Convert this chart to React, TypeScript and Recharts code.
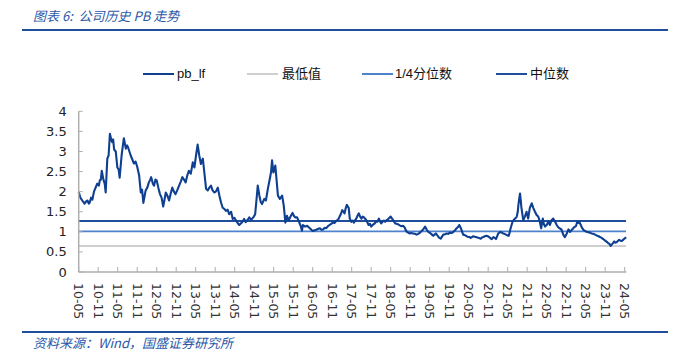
import React from 'react';
import { LineChart, Line, XAxis, YAxis } from 'recharts';

// month index from 2010-05 (0) to 2024-05 (168)
const months = [
  0, 0.5, 1.1, 1.8, 2.3, 2.7, 3.1, 3.4, 3.8, 4.2, 4.7, 5.2, 5.7, 6.2, 6.5, 6.8, 7.1, 7.6, 8.0, 8.3,
  8.8, 9.2, 9.6, 10.0, 10.3, 10.6, 10.9, 11.4, 11.9, 12.3, 12.6, 13.2, 13.6, 13.9, 14.2, 14.5, 14.9, 15.2, 15.6, 16.0,
  16.5, 17.0, 17.5, 18.0, 18.6, 19.1, 19.5, 19.9, 20.3, 20.6, 21.1, 21.6, 22.0, 22.3, 22.8, 23.2, 23.6, 24.0, 24.5, 25.0,
  25.5, 26.0, 26.4, 26.8, 27.3, 27.8, 28.3, 28.8, 29.3, 29.8, 30.4, 30.9, 31.4, 31.9, 32.4, 32.9, 33.4, 33.9, 34.5, 35.1,
  35.6, 36.1, 36.6, 37.1, 37.6, 38.2, 38.6, 39.2, 39.7, 40.2, 40.7, 41.2, 41.7, 42.2, 42.8, 43.3, 43.8, 44.3, 44.8, 45.3,
  45.8, 46.3, 46.9, 47.4, 47.9, 48.4, 48.9, 49.4, 49.8, 50.2, 50.9, 51.4, 52.0, 52.5, 53.0, 53.5, 53.9, 54.3, 54.6, 55.1,
  55.6, 56.0, 56.4, 57.1, 57.6, 58.2, 58.9, 59.2, 59.5, 59.9, 60.2, 60.5, 60.9, 61.3, 61.9, 62.6, 63.1, 63.6, 64.1, 64.6,
  65.3, 65.8, 66.2, 66.6, 67.2, 67.9, 68.3, 68.7, 69.0, 69.7, 70.3, 71.1, 71.6, 72.1, 72.6, 73.1, 73.6, 74.2, 74.7, 75.2,
  75.7, 76.2, 76.7, 77.2, 77.7, 78.2, 78.7, 79.3, 79.8, 80.3, 80.7, 81.1, 81.5, 81.8, 82.2, 82.5, 83.1, 83.4, 83.9, 84.3,
  84.7, 85.0, 85.4, 85.8, 86.2, 86.6, 87.0, 87.4, 87.8, 88.2, 88.5, 89.2, 89.6, 90.0, 90.6, 91.1, 91.5, 91.9, 92.4, 92.7,
  93.1, 93.5, 93.9, 94.3, 94.7, 95.0, 95.4, 96.0, 96.4, 96.7, 97.0, 97.4, 97.8, 98.2, 98.8, 99.3, 99.8, 100.3, 100.6, 101.0,
  101.4, 101.8, 102.3, 102.9, 103.4, 104.0, 104.5, 105.0, 105.5, 106.0, 106.6, 107.1, 107.6, 108.3, 108.7, 109.1, 109.5, 109.9, 110.3, 110.7,
  111.0, 111.4, 111.8, 112.2, 112.7, 113.2, 113.7, 114.2, 114.8, 115.3, 115.8, 116.3, 116.7, 117.1, 117.6, 118.0, 118.3, 118.8, 119.2, 119.6,
  119.9, 120.3, 120.6, 121.0, 121.4, 121.8, 122.2, 122.6, 123.0, 123.4, 123.7, 124.1, 124.5, 125.0, 125.5, 125.9, 126.3, 126.7, 127.1, 127.6,
  128.0, 128.4, 128.8, 129.1, 129.5, 129.8, 130.2, 130.6, 131.0, 131.5, 131.9, 132.3, 132.6, 132.9, 133.2, 133.5, 133.9, 134.3, 134.8, 135.1,
  135.3, 135.6, 135.8, 136.0, 136.2, 136.5, 136.8, 137.3, 137.8, 138.3, 138.8, 139.1, 139.4, 139.9, 140.4, 140.9, 141.4, 141.9, 142.3, 142.8,
  143.1, 143.5, 144.0, 144.5, 145.0, 145.5, 146.0, 146.6, 147.1, 147.5, 147.9, 148.2, 148.6, 149.1, 149.6, 150.2, 150.7, 151.2, 151.7, 152.0,
  152.4, 153.0, 153.4, 153.7, 154.0, 154.5, 154.8, 155.3, 155.8, 156.3, 156.8, 157.3, 157.8, 158.3, 158.9, 159.6, 160.0, 160.4, 160.9, 161.4,
  162.0, 162.5, 162.9, 163.3, 163.7, 164.0, 164.4, 164.8, 165.1, 165.5, 165.9, 166.3, 166.7, 167.1, 167.5, 167.8, 168.1, 168.4,
];

const pbValues = [
  2.0, 1.85, 1.78, 1.7, 1.76, 1.78, 1.7, 1.73, 1.85, 1.8, 2.0, 2.1, 2.2, 2.15, 2.28, 2.3, 2.52, 2.3, 2.2, 1.98,
  2.82, 2.9, 3.44, 3.3, 3.23, 3.3, 3.05, 3.0, 2.6, 2.55, 2.35, 2.9, 3.15, 3.33, 3.2, 3.07, 3.15, 3.1, 3.0, 2.9,
  2.8, 2.7, 2.75, 2.62, 2.4, 1.98, 2.05, 1.72, 1.9, 2.03, 2.1, 2.23, 2.3, 2.36, 2.2, 2.15, 2.3, 2.28, 2.1, 1.94,
  1.85, 1.63, 1.8, 1.98, 1.9, 1.78, 1.95, 2.1, 2.0, 1.94, 2.05, 2.15, 2.25, 2.36, 2.3, 2.23, 2.4, 2.52, 2.45, 2.73,
  2.6, 2.9, 3.17, 2.9, 2.69, 2.82, 2.52, 2.07, 2.03, 2.1, 2.15, 2.03, 1.98, 2.0, 2.1, 1.9, 1.73, 1.6, 1.57, 1.52,
  1.55, 1.44, 1.5, 1.32, 1.35, 1.28, 1.22, 1.17, 1.2, 1.23, 1.32, 1.24, 1.3, 1.36, 1.3, 1.34, 1.38, 1.44, 1.7, 2.15,
  1.9, 1.75, 1.69, 1.82, 1.78, 2.07, 2.36, 2.5, 2.78, 2.48, 2.55, 2.65, 2.28, 1.9, 1.82, 1.9, 1.65, 1.23, 1.4, 1.28,
  1.4, 1.47, 1.4, 1.36, 1.36, 1.23, 1.15, 1.03, 1.17, 1.13, 1.15, 1.09, 1.05, 1.02, 1.04, 1.05, 1.07, 1.09, 1.05, 1.06,
  1.1, 1.09, 1.14, 1.17, 1.2, 1.23, 1.22, 1.28, 1.3, 1.38, 1.45, 1.54, 1.5, 1.46, 1.6, 1.67, 1.59, 1.33, 1.25, 1.28,
  1.23, 1.28, 1.33, 1.4, 1.46, 1.38, 1.33, 1.38, 1.36, 1.32, 1.29, 1.17, 1.2, 1.13, 1.18, 1.21, 1.26, 1.25, 1.33, 1.26,
  1.21, 1.25, 1.28, 1.25, 1.29, 1.3, 1.33, 1.38, 1.33, 1.3, 1.26, 1.21, 1.2, 1.19, 1.16, 1.14, 1.15, 1.11, 1.05, 1.0,
  0.98, 0.96, 0.97, 0.96, 0.95, 0.93, 0.95, 0.98, 1.02, 1.06, 1.13, 1.05, 1.0, 0.96, 0.93, 0.9, 0.93, 0.96, 0.92, 0.87,
  0.85, 0.83, 0.88, 0.93, 0.94, 0.96, 0.95, 0.98, 0.97, 1.0, 1.04, 1.09, 1.12, 1.17, 1.09, 1.0, 0.93, 0.92, 0.9, 0.88,
  0.87, 0.87, 0.85, 0.87, 0.89, 0.88, 0.87, 0.86, 0.85, 0.84, 0.83, 0.86, 0.87, 0.89, 0.9, 0.89, 0.87, 0.84, 0.82, 0.87,
  0.85, 0.82, 0.9, 0.96, 0.98, 1.0, 0.98, 0.96, 0.95, 0.93, 0.91, 0.9, 0.98, 1.09, 1.17, 1.25, 1.3, 1.33, 1.38, 1.5,
  1.67, 1.85, 1.95, 1.8, 1.62, 1.45, 1.29, 1.38, 1.5, 1.33, 1.59, 1.65, 1.71, 1.59, 1.5, 1.42, 1.38, 1.25, 1.09, 1.33,
  1.2, 1.13, 1.17, 1.25, 1.17, 1.29, 1.33, 1.25, 1.17, 1.12, 1.09, 1.08, 1.05, 0.93, 0.87, 0.96, 1.06, 1.0, 1.05, 1.07,
  1.11, 1.14, 1.25, 1.22, 1.25, 1.17, 1.11, 1.05, 1.02, 1.0, 0.99, 0.98, 0.96, 0.95, 0.93, 0.9, 0.89, 0.87, 0.85, 0.82,
  0.78, 0.75, 0.72, 0.7, 0.65, 0.68, 0.72, 0.76, 0.73, 0.74, 0.77, 0.8, 0.78, 0.77, 0.8, 0.82, 0.84, 0.87,
];

const MIN_PB = 0.65;
const Q1_PB = 1.01;
const MEDIAN_PB = 1.27;

const xTickLabels = [
  '10-05', '10-11', '11-05', '11-11', '12-05', '12-11', '13-05', '13-11', '14-05', '14-11',
  '15-05', '15-11', '16-05', '16-11', '17-05', '17-11', '18-05', '18-11', '19-05', '19-11',
  '20-05', '20-11', '21-05', '21-11', '22-05', '22-11', '23-05', '23-11', '24-05',
];
const xTickMonths = xTickLabels.map((_, i) => i * 6);
const yTicks = [0, 0.5, 1, 1.5, 2, 2.5, 3, 3.5, 4];

const seriesNames = ['pb_lf', '最低值', '1/4分位数', '中位数'];

const data = months.map((m, i) => ({ m, pb: pbValues[i], min: MIN_PB, q1: Q1_PB, med: MEDIAN_PB }));

const C_PB = '#0E3F91';
const C_MIN = '#CFCFCF';
const C_Q1 = '#4F82CC';
const C_MED = '#1F4E9C';
const AXIS = '#AEAEAE';

const XTick = (props: any) => {
  const { x, y, payload } = props;
  const label = xTickLabels[Math.round(payload.value / 6)];
  return (
    <g>
      <line x1={x} y1={y} x2={x} y2={y - 5} stroke={AXIS} strokeWidth={1} />
      <text
        x={x}
        y={y + 11}
        transform={`rotate(90, ${x}, ${y + 11})`}
        textAnchor="start"
        dominantBaseline="central"
        fontFamily="DejaVu Sans"
        fontSize={12.5}
        fill="#333"
      >
        {label}
      </text>
    </g>
  );
};

const YTick = (props: any) => {
  const { x, y, payload } = props;
  return (
    <g>
      <line x1={x} y1={y} x2={x + 4} y2={y} stroke={AXIS} strokeWidth={1} />
      <text
        x={x - 12}
        y={y}
        textAnchor="end"
        dominantBaseline="central"
        fontFamily="DejaVu Sans"
        fontSize={13}
        fill="#222"
      >
        {String(payload.value)}
      </text>
    </g>
  );
};

const legendItems = [
  { name: seriesNames[0], color: C_PB, lineX: 143, textX: 177 },
  { name: seriesNames[1], color: C_MIN, lineX: 247, textX: 282 },
  { name: seriesNames[2], color: C_Q1, lineX: 362, textX: 395 },
  { name: seriesNames[3], color: C_MED, lineX: 496, textX: 530 },
];

export default function App() {
  return (
    <div style={{ position: 'absolute', left: 0, top: 0, width: 675, height: 362, background: '#fff', overflow: 'hidden' }}>
      <div
        style={{
          position: 'absolute', left: 33, top: 7, fontStyle: 'italic', color: '#2A58A8',
          fontFamily: '"Noto Sans CJK SC", "DejaVu Sans", sans-serif', fontSize: 13, lineHeight: '18px', whiteSpace: 'nowrap',
        }}
      >
        图表 6:&nbsp; 公司历史 PB 走势
      </div>
      <div style={{ position: 'absolute', left: 22, top: 29, width: 646, height: 2, background: '#1F4E9C' }} />

      {legendItems.map((it) => (
        <React.Fragment key={it.name}>
          <div style={{ position: 'absolute', left: it.lineX, top: 73, width: 31, height: 2, background: it.color }} />
          <div
            style={{
              position: 'absolute', left: it.textX, top: 65, fontSize: 13, lineHeight: '18px', color: '#111',
              fontFamily: '"Liberation Sans", "Noto Sans CJK SC", sans-serif', whiteSpace: 'nowrap',
            }}
          >
            {it.name}
          </div>
        </React.Fragment>
      ))}

      <div style={{ position: 'absolute', left: 0, top: 0 }}>
        <LineChart width={675} height={362} data={data} margin={{ top: 111.3, right: 48.7, bottom: 50, left: 0 }}>
          <XAxis
            dataKey="m"
            type="number"
            domain={[0, 168.5]}
            ticks={xTickMonths}
            interval={0}
            height={40}
            tickLine={false}
            tickSize={0}
            tickMargin={0}
            axisLine={{ stroke: AXIS, strokeWidth: 1.5 }}
            tick={<XTick />}
          />
          <YAxis
            type="number"
            domain={[0, 4]}
            ticks={yTicks}
            interval={0}
            width={78.7}
            tickLine={false}
            tickSize={0}
            tickMargin={0}
            axisLine={{ stroke: AXIS, strokeWidth: 1.5 }}
            tick={<YTick />}
          />
          <Line dataKey="min" name={seriesNames[1]} stroke={C_MIN} strokeWidth={2} dot={false} isAnimationActive={false} />
          <Line dataKey="q1" name={seriesNames[2]} stroke={C_Q1} strokeWidth={1.6} dot={false} isAnimationActive={false} />
          <Line dataKey="med" name={seriesNames[3]} stroke={C_MED} strokeWidth={2} dot={false} isAnimationActive={false} />
          <Line dataKey="pb" name={seriesNames[0]} stroke={C_PB} strokeWidth={2.1} dot={false} isAnimationActive={false} strokeLinejoin="round" />
        </LineChart>
      </div>

      <div style={{ position: 'absolute', left: 22, top: 331, width: 646, height: 2, background: '#1F4E9C' }} />
      <div
        style={{
          position: 'absolute', left: 33, top: 334, fontStyle: 'italic', color: '#2A58A8',
          fontFamily: '"Noto Sans CJK SC", "DejaVu Sans", sans-serif', fontSize: 13, lineHeight: '18px', whiteSpace: 'nowrap',
        }}
      >
        资料来源：Wind，国盛证券研究所
      </div>
    </div>
  );
}
